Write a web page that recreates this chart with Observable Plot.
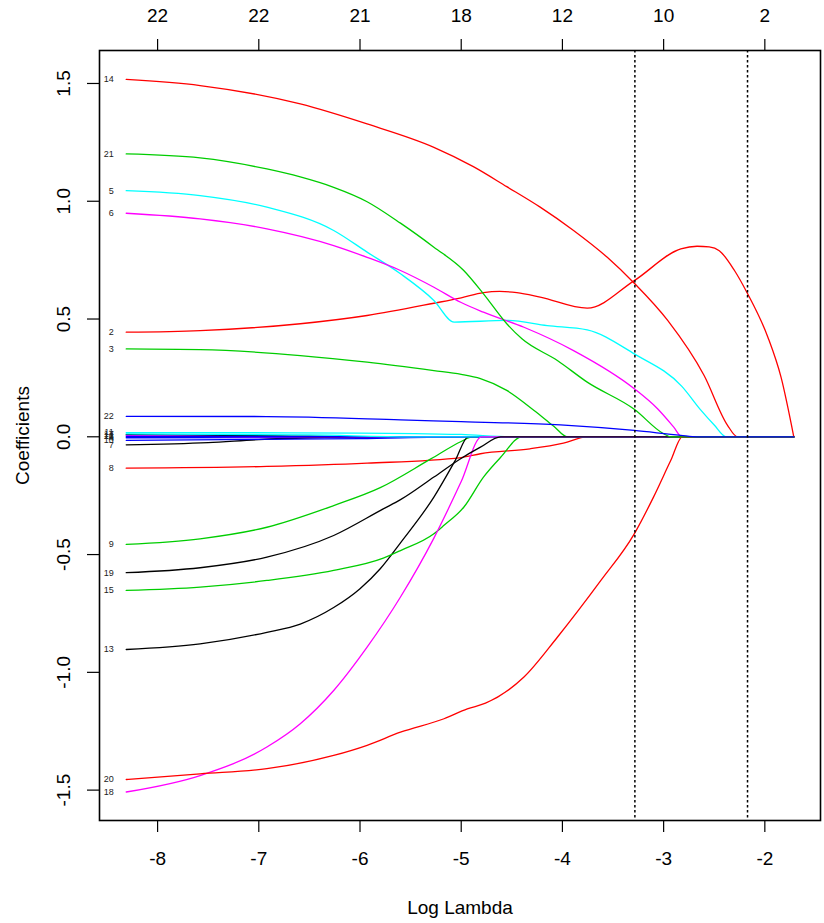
<!DOCTYPE html>
<html>
<head>
<meta charset="utf-8">
<script src="https://cdn.jsdelivr.net/npm/d3@7"></script>
<script src="https://cdn.jsdelivr.net/npm/@observablehq/plot@0.6"></script>
<style>
  html, body { margin: 0; padding: 0; background: #fff; }
  #chart svg { display: block; }
</style>
</head>
<body>
<div id="chart"></div>
<script>
// ---- axis data ----
const xTicks = [-8, -7, -6, -5, -4, -3, -2];
const dfTop = [22, 22, 21, 18, 12, 10, 2];
const yTicks = [-1.5, -1, -0.5, 0, 0.5, 1, 1.5];
const lambdaCuts = [-3.284, -2.171];
const pathEnd = -1.714;

// ---- coefficient paths: [log lambda, coefficient] ----
const coef1  = [[-8.31, 0.009], [-6.8, 0.004], [-6.0, 0]];
const coef2  = [[-8.31, 0.444], [-7.58, 0.451], [-6.59, 0.48], [-5.93, 0.515], [-5.27, 0.567], [-5.0, 0.59], [-4.78, 0.612], [-4.62, 0.617], [-4.45, 0.612], [-4.22, 0.593], [-3.755, 0.546], [-3.29, 0.663], [-2.83, 0.798], [-2.67, 0.809], [-2.55, 0.806], [-2.45, 0.79], [-2.30, 0.706], [-2.17, 0.607], [-1.97, 0.423], [-1.84, 0.253], [-1.714, 0]];
const coef3  = [[-8.31, 0.373], [-7.58, 0.37], [-6.59, 0.345], [-5.93, 0.317], [-5.27, 0.281], [-5.0, 0.265], [-4.81, 0.247], [-4.55, 0.197], [-4.28, 0.112], [-4.085, 0.045], [-3.95, 0]];
const coef4  = [[-8.31, -0.004], [-6.0, -0.002], [-4.0, 0]];
const coef5  = [[-8.31, 1.045], [-7.58, 1.024], [-6.92, 0.975], [-6.26, 0.876], [-5.93, 0.784], [-5.60, 0.692], [-5.27, 0.579], [-5.07, 0.487], [-4.55, 0.494], [-4.15, 0.472], [-3.755, 0.454], [-3.29, 0.352], [-2.82, 0.214], [-2.63, 0.112], [-2.50, 0.05], [-2.38, 0]];
const coef6  = [[-8.31, 0.949], [-7.58, 0.925], [-6.92, 0.883], [-6.26, 0.812], [-5.93, 0.762], [-5.60, 0.706], [-5.27, 0.635], [-5.0, 0.57], [-4.78, 0.529], [-4.38, 0.465], [-3.89, 0.366], [-3.29, 0.204], [-3.06, 0.119], [-2.90, 0.041], [-2.82, 0]];
const coef7  = [[-8.31, -0.034], [-7.5, -0.025], [-7.0, -0.012], [-6.5, -0.004], [-6.0, 0]];
const coef8  = [[-8.31, -0.133], [-6.92, -0.126], [-5.93, -0.112], [-5.0, -0.088], [-4.81, -0.072], [-4.32, -0.051], [-3.99, -0.027], [-3.755, 0]];
const coef9  = [[-8.31, -0.457], [-7.58, -0.433], [-6.92, -0.384], [-6.26, -0.292], [-5.80, -0.216], [-5.30, -0.094], [-5.0, -0.02], [-4.89, 0]];
const coef10 = [[-8.31, -0.015], [-6.0, -0.008], [-5.0, 0]];
const coef11 = [[-8.31, 0.018], [-6.0, 0.016], [-5.0, 0.01], [-4.5, 0]];
const coef12 = [[-8.31, 0.005], [-7.0, 0]];
const coef13 = [[-8.31, -0.903], [-7.58, -0.879], [-6.92, -0.83], [-6.59, -0.795], [-6.26, -0.725], [-6.0, -0.645], [-5.80, -0.56], [-5.60, -0.45], [-5.27, -0.256], [-5.06, -0.101], [-4.93, 0]];
const coef14 = [[-8.31, 1.517], [-7.58, 1.491], [-6.59, 1.413], [-5.93, 1.328], [-5.27, 1.229], [-4.88, 1.147], [-4.55, 1.062], [-4.22, 0.975], [-3.89, 0.876], [-3.557, 0.762], [-3.29, 0.652], [-2.96, 0.494], [-2.60, 0.26], [-2.37, 0.05], [-2.27, 0]];
const coef15 = [[-8.31, -0.652], [-7.58, -0.638], [-6.92, -0.610], [-6.26, -0.567], [-5.77, -0.515], [-5.60, -0.483], [-5.27, -0.412], [-5.17, -0.376], [-4.975, -0.299], [-4.78, -0.171], [-4.61, -0.087], [-4.40, 0]];
const coef16 = [[-8.31, 0.002], [-5.0, 0]];
const coef17 = [[-8.31, 0.012], [-6.5, 0.008], [-5.5, 0]];
const coef18 = [[-8.31, -1.508], [-7.58, -1.438], [-6.92, -1.317], [-6.59, -1.218], [-6.26, -1.077], [-5.93, -0.893], [-5.60, -0.68], [-5.27, -0.43], [-5.0, -0.19], [-4.80, 0]];
const coef19 = [[-8.31, -0.577], [-7.58, -0.556], [-6.92, -0.511], [-6.26, -0.419], [-5.77, -0.306], [-5.60, -0.267], [-5.27, -0.171], [-5.01, -0.094], [-4.81, -0.044], [-4.61, 0]];
const coef20 = [[-8.31, -1.455], [-7.58, -1.431], [-6.92, -1.409], [-6.26, -1.353], [-5.93, -1.310], [-5.60, -1.254], [-5.17, -1.197], [-4.94, -1.155], [-4.76, -1.131], [-4.38, -1.02], [-4.05, -0.851], [-3.62, -0.61], [-3.29, -0.412], [-3.10, -0.256], [-2.93, -0.101], [-2.815, 0]];
const coef21 = [[-8.31, 1.201], [-7.58, 1.184], [-6.92, 1.137], [-6.59, 1.103], [-6.26, 1.059], [-5.93, 0.998], [-5.60, 0.907], [-5.27, 0.805], [-4.975, 0.706], [-4.78, 0.607], [-4.55, 0.48], [-4.40, 0.416], [-4.05, 0.324], [-3.755, 0.232], [-3.29, 0.117], [-3.0, 0.013], [-2.93, 0]];
const coef22 = [[-8.31, 0.087], [-6.92, 0.086], [-5.60, 0.072], [-5.0, 0.064], [-4.02, 0.051], [-3.29, 0.027], [-2.83, 0.006], [-2.67, 0]];

const paths = [coef1, coef2, coef3, coef4, coef5, coef6, coef7, coef8, coef9, coef10, coef11,
  coef12, coef13, coef14, coef15, coef16, coef17, coef18, coef19, coef20, coef21, coef22];

// glmnet default palette (cycles through col = 1:6)
const palette = ["#000000", "#FF0000", "#00CD00", "#0000FF", "#00FFFF", "#FF00FF"];

const rows = [];
const starts = [];
paths.forEach((pts, i) => {
  const id = i + 1;
  const color = palette[i % 6];
  const full = pts.slice();
  if (full[full.length - 1][0] < pathEnd) full.push([pathEnd, 0]);
  full.forEach(([x, y]) => rows.push({id, x, y, color}));
  starts.push({id, x: pts[0][0], y: pts[0][1]});
});

const font = "'Liberation Sans', Arial, Helvetica, sans-serif";

const chart = Plot.plot({
  width: 824,
  height: 923,
  marginLeft: 99,
  marginRight: 4,
  marginTop: 50,
  marginBottom: 103,
  style: {fontFamily: font, background: "#fff", color: "#000"},
  x: {domain: [-8.574, -1.45], axis: null},
  y: {domain: [-1.629, 1.640], axis: null},
  color: {type: "identity"},
  marks: [
    Plot.line(rows, {x: "x", y: "y", z: "id", stroke: "color", strokeWidth: 1.3, curve: "monotone-x"}),
    Plot.ruleX(lambdaCuts, {stroke: "#000", strokeWidth: 1.5, strokeDasharray: "2.5,2.5"}),
    Plot.text(starts, {x: "x", y: "y", text: d => String(d.id), textAnchor: "end", dx: -12.5, fontSize: 9, fill: "#222", fontFamily: font}),
    Plot.frame({stroke: "#000", strokeWidth: 1.6}),
    Plot.axisX({anchor: "bottom", ticks: xTicks, tickSize: 12, tickPadding: 19, tickFormat: d => String(d), fontSize: 19, strokeWidth: 1.2, label: null}),
    Plot.axisX({anchor: "top", ticks: xTicks, tickSize: 12, tickPadding: 17, tickFormat: d => String(dfTop[xTicks.indexOf(d)]), fontSize: 19, strokeWidth: 1.2, label: null}),
    Plot.axisY({anchor: "left", ticks: yTicks, tickSize: 12, tickFormat: () => "", strokeWidth: 1.2, label: null}),
    Plot.text(yTicks, {y: d => d, text: d => d.toFixed(1), frameAnchor: "left", rotate: -90, textAnchor: "middle", lineAnchor: "middle", dx: -36, fontSize: 19, fontFamily: font}),
    Plot.text(["Coefficients"], {text: d => d, frameAnchor: "left", rotate: -90, textAnchor: "middle", lineAnchor: "middle", dx: -77, fontSize: 19, fontFamily: font}),
    Plot.text(["Log Lambda"], {text: d => d, frameAnchor: "bottom", textAnchor: "middle", lineAnchor: "middle", dy: 87, fontSize: 19, fontFamily: font})
  ]
});
document.getElementById("chart").appendChild(chart);
</script>
</body>
</html>
